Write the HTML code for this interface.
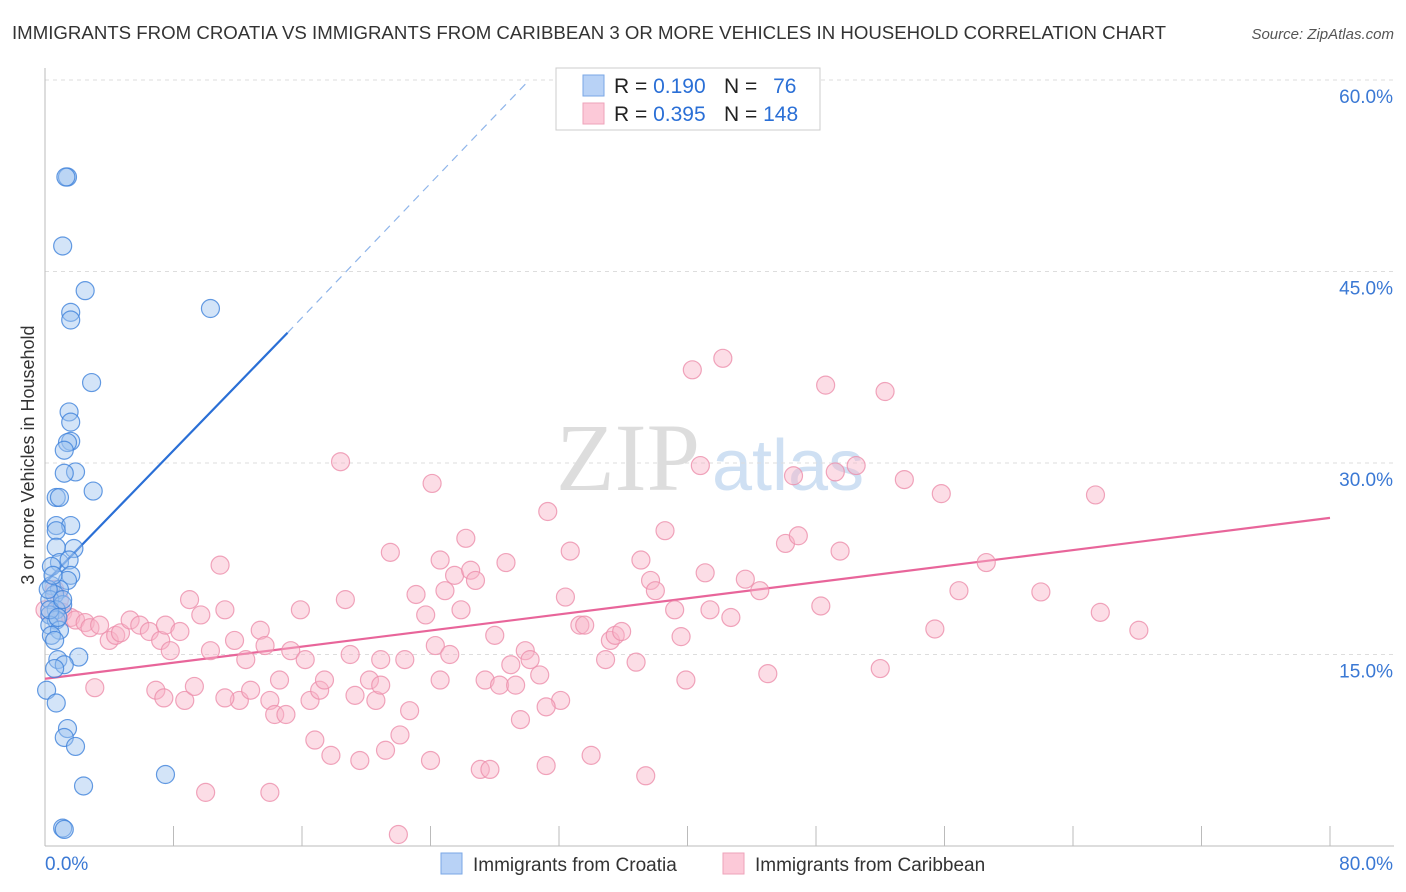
<!DOCTYPE html>
<html><head><meta charset="utf-8">
<style>
body{margin:0;background:#fff;font-family:"Liberation Sans",sans-serif;}
#wrap{position:relative;width:1406px;height:892px;overflow:hidden;}
</style></head>
<body>
<div id="wrap">
<svg id="svg" width="1406" height="892" xmlns="http://www.w3.org/2000/svg">
<text x="12" y="39" font-size="18" fill="#333" textLength="1154" lengthAdjust="spacingAndGlyphs">IMMIGRANTS FROM CROATIA VS IMMIGRANTS FROM CARIBBEAN 3 OR MORE VEHICLES IN HOUSEHOLD CORRELATION CHART</text>
<text x="1394" y="39" font-size="15" fill="#555" font-style="italic" text-anchor="end">Source: ZipAtlas.com</text>
<text transform="translate(34,455) rotate(-90)" font-size="18" fill="#333" text-anchor="middle">3 or more Vehicles in Household</text>
<text x="700" y="490" font-size="96" fill="#ddd" text-anchor="end" font-family="Liberation Serif">ZIP</text>
<text x="712" y="490" font-size="72" fill="#cfe0f3">atlas</text>
<g id="grid"></g><g id="axes"></g><g id="trend"></g><g id="pts"></g>
<g>
<rect x="556" y="68" width="264" height="62" fill="#fff" stroke="#ccc"/>
<rect x="583" y="75" width="21" height="21" fill="#b8d2f6" stroke="#7aa7e6"/>
<rect x="583" y="103" width="21" height="21" fill="#fcc9d8" stroke="#eea3ba"/>
<text x="614" y="93" font-size="21" fill="#222">R = <tspan fill="#2a6fd6">0.190</tspan></text>
<text x="724" y="93" font-size="21" fill="#222">N = <tspan fill="#2a6fd6" dx="10">76</tspan></text>
<text x="614" y="121" font-size="21" fill="#222">R = <tspan fill="#2a6fd6">0.395</tspan></text>
<text x="724" y="121" font-size="21" fill="#222">N = <tspan fill="#2a6fd6">148</tspan></text>
</g>
<g>
<rect x="441" y="853" width="21" height="21" fill="#b8d2f6" stroke="#7aa7e6"/>
<text x="473" y="871" font-size="19" fill="#333">Immigrants from Croatia</text>
<rect x="723" y="853" width="21" height="21" fill="#fcc9d8" stroke="#eea3ba"/>
<text x="755" y="871" font-size="19" fill="#333">Immigrants from Caribbean</text>
</g>
</svg>
</div>
<script>
const yTicks=[15,30,45,60];
const yTickLabels=["15.0%","30.0%","45.0%","60.0%"];
const xTickValues=[0,8,16,24,32,40,48,56,64,72,80];
const croatiaX=[1.4,1.3,1.1,2.5,1.6,1.6,10.3,2.9,1.5,1.6,1.6,1.4,1.2,1.9,1.2,3.0,0.7,0.9,0.7,1.6,0.7,1.8,0.7,0.9,1.5,0.4,1.6,1.4,0.4,0.9,0.6,0.3,1.1,0.7,0.3,0.7,0.3,0.9,0.4,0.6,2.1,0.8,1.2,0.6,0.1,0.7,1.4,1.2,1.9,2.4,7.5,1.1,1.2,0.3,0.2,0.5,0.8,1.1];
const croatiaY=[52.4,52.4,47.0,43.5,41.8,41.2,42.1,36.3,34.0,33.2,31.7,31.6,31.0,29.3,29.2,27.8,27.3,27.3,25.1,25.1,24.7,23.3,23.4,22.2,22.4,21.9,21.2,20.8,20.4,20.1,19.7,19.3,18.9,18.5,18.1,17.7,17.3,16.9,16.5,16.1,14.8,14.6,14.2,13.9,12.2,11.2,9.2,8.5,7.8,4.7,5.6,1.4,1.3,18.5,20.1,21.2,17.9,19.3];
const caribX=[0,0.6,0.9,1.1,1.6,1.9,2.5,2.8,3.4,4.0,4.4,4.7,5.3,5.9,6.5,7.2,7.5,7.8,8.4,9.0,9.7,10.3,10.9,11.2,11.8,12.1,12.5,12.8,13.4,13.7,14.0,14.3,14.6,15.0,15.3,15.9,16.2,16.5,16.8,17.1,17.4,17.8,18.4,18.7,19.0,19.3,19.6,20.2,20.6,20.9,21.2,21.5,22.1,22.4,22.7,23.1,23.7,24.0,24.1,24.3,24.6,24.9,25.2,25.5,25.9,26.2,26.5,26.8,27.1,27.4,27.7,28.0,28.3,28.7,29.0,29.3,29.6,29.9,30.2,30.8,31.2,31.3,32.1,32.4,32.7,33.3,33.6,34.0,34.9,35.2,35.5,35.9,36.8,37.1,37.4,37.7,38.0,38.6,39.2,39.6,39.9,40.3,40.8,41.1,41.4,42.2,42.7,43.6,44.5,45.0,46.1,46.6,46.9,48.3,48.6,49.2,49.5,50.5,52.0,52.3,53.5,55.4,55.8,56.9,58.6,62.0,65.4,65.7,68.1,22.0,10.0,14.0,3.1,6.9,7.4,8.7,9.3,11.2,20.9,24.6,31.2];
const caribY=[18.5,20.1,19.3,18.3,17.9,17.7,17.5,17.1,17.3,16.1,16.5,16.7,17.7,17.3,16.8,16.1,17.3,15.3,16.8,19.3,18.1,15.3,22.0,18.5,16.1,11.4,14.6,12.2,16.9,15.7,11.4,10.3,13.0,10.3,15.3,18.5,14.6,11.4,8.3,12.2,13.0,7.1,30.1,19.3,15.0,11.8,6.7,13.0,11.4,14.6,7.5,23.0,8.7,14.6,10.6,19.7,18.1,6.7,28.4,15.7,22.4,20.0,15.0,21.2,18.5,24.1,21.6,20.8,6.0,13.0,6.0,16.5,12.6,22.2,14.2,12.6,9.9,15.3,14.6,13.4,6.3,26.2,11.4,19.5,23.1,17.3,17.3,7.1,14.6,16.1,16.5,16.8,14.4,22.4,5.5,20.8,20.0,24.7,18.5,16.4,13.0,37.3,29.8,21.4,18.5,38.2,17.9,20.9,20.0,13.5,23.7,29.0,24.3,18.8,36.1,29.3,23.1,29.8,13.9,35.6,28.7,17.0,27.6,20.0,22.2,19.9,27.5,18.3,16.9,0.9,4.2,4.2,12.4,12.2,11.6,11.4,12.5,11.6,12.6,13.0,10.9];
const croatiaTrend=[[0,20.6],[15.1,40.2]];
const croatiaTrendDash=[[15.1,40.2],[30.0,59.8]];
const caribTrend=[[0,13.1],[80,25.7]];

const NS="http://www.w3.org/2000/svg";
const X0=45,X1=1330,Y0=846,PPY=191.5/15;
const sx=v=>X0+(v/80)*(X1-X0);
const sy=v=>Y0-v*PPY;
function mk(tag,attrs,parent){const e=document.createElementNS(NS,tag);for(const k in attrs)e.setAttribute(k,attrs[k]);document.getElementById(parent).appendChild(e);return e;}

yTicks.forEach((t,i)=>{
  const g=mk('line',{x1:X0,x2:1394,y1:sy(t),y2:sy(t),stroke:'#ddd','stroke-dasharray':'4,4'},'grid');
  
  
  const l=mk('text',{x:1393,y:sy(t)+23,'font-size':19,fill:'#3a78d4','text-anchor':'end'},'axes');
  l.textContent=yTickLabels[i];
  
  
});
const ax=mk('line',{x1:X0,x2:X0,y1:68,y2:Y0,stroke:'#bbb'},'axes');


const bx=mk('line',{x1:X0,x2:1394,y1:Y0,y2:Y0,stroke:'#bbb'},'axes');


xTickValues.forEach(t=>{
  const tk=mk('line',{x1:sx(t),x2:sx(t),y1:826,y2:Y0,stroke:'#bbb'},'axes');
  
  
});
const xl0=mk('text',{x:45,y:870,'font-size':19,fill:'#3a78d4'},'axes');
xl0.textContent='0.0%';


const xl1=mk('text',{x:1393,y:870,'font-size':19,fill:'#3a78d4','text-anchor':'end'},'axes');
xl1.textContent='80.0%';



function drawPts(xs,ys,fill,stroke,name){
  xs.forEach((x,i)=>{
    const c=mk('circle',{cx:sx(x),cy:sy(ys[i]),r:9,fill:fill,'fill-opacity':0.45,stroke:stroke,'stroke-width':1.2,'stroke-opacity':0.8},'pts');
    
    
  });
}
drawPts(caribX,caribY,'#f9b4c8','#ec8fab','point-caribbean');
drawPts(croatiaX,croatiaY,'#9ec3f0','#3f82db','point-croatia');

const t1=mk('line',{x1:sx(croatiaTrend[0][0]),y1:sy(croatiaTrend[0][1]),x2:sx(croatiaTrend[1][0]),y2:sy(croatiaTrend[1][1]),stroke:'#2a6fd6','stroke-width':2.2},'trend');


const t2=mk('line',{x1:sx(croatiaTrendDash[0][0]),y1:sy(croatiaTrendDash[0][1]),x2:sx(croatiaTrendDash[1][0]),y2:sy(croatiaTrendDash[1][1]),stroke:'#8fb5ea','stroke-width':1.2,'stroke-dasharray':'8,6'},'trend');


const t3=mk('line',{x1:sx(caribTrend[0][0]),y1:sy(caribTrend[0][1]),x2:sx(caribTrend[1][0]),y2:sy(caribTrend[1][1]),stroke:'#e8659a','stroke-width':2.2},'trend');


</script>
</body></html>
